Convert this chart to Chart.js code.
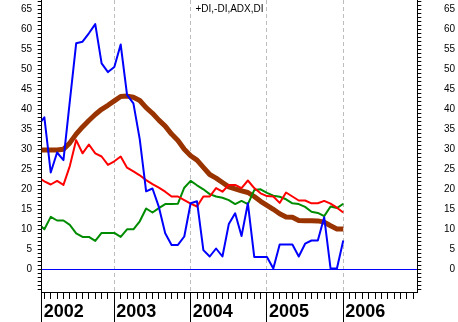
<!DOCTYPE html>
<html>
<head>
<meta charset="utf-8">
<script src="https://cdn.jsdelivr.net/npm/chart.js@4/dist/chart.umd.min.js"></script>
<style>
  html, body { margin: 0; padding: 0; background: #fff; }
  canvas { display: block; }
</style>
</head>
<body>
<canvas id="dmi" width="458" height="322"></canvas>
<script>
// monthly readings, Jan 2002 .. Jan 2006 (x = months since Jan 2002)
const years = ['2002', '2003', '2004', '2005', '2006'];
const yearStarts = [0, 12, 24, 36, 48];
const yTickLabels = [0, 5, 10, 15, 20, 25, 30, 35, 40, 45, 50, 55, 60, 65];

const di = [36, 38, 24.2, 29.2, 27.3, 42, 56.5, 56.9, 59, 61.3, 51.5, 49.3, 50.6, 56.2, 43.6, 41.5,
  32.5, 19.5, 20.2, 15.6, 9, 6.1, 6.1, 8.2, 16.5, 17, 4.8, 3.2, 5.2, 3.2, 11.3, 14, 8.3, 16.5,
  3.1, 3.1, 3.1, 0.2, 6.2, 6.2, 6.2, 3.2, 6.4, 7.2, 7.2, 13, 0.2, 0.2, 7.2];
const minusDI = [23, 22, 21.2, 22.1, 21.1, 25.8, 32.3, 29, 31.2, 29, 28.2, 26.1, 27, 28.2, 25.4, 24.5,
  23.5, 22.3, 21.3, 20.4, 19.4, 18.2, 18.2, 17.3, 16.4, 15.7, 18.2, 18.2, 20.3, 19.4, 21.1, 21.1,
  20.3, 22.2, 20.3, 19, 18.3, 18.2, 16.6, 19.2, 18.2, 17.2, 17.2, 16.5, 16.5, 17.1, 16.4, 15.4, 14.2];
const plusDI = [11.5, 10, 13.1, 12.2, 12.2, 11.1, 9, 8.1, 8.1, 7.1, 9.1, 9.1, 9.1, 8.1, 10, 10,
  12, 15.2, 14.2, 15.3, 16.3, 16.3, 16.4, 20.4, 22.1, 21, 20, 18.8, 18.2, 17.9, 17.3, 16.3,
  17.1, 16.3, 19.8, 20, 19.1, 18.4, 18.15, 17.5, 16.5, 16.3, 15.6, 14.4, 14.1, 13.3, 15.7, 15.3, 16.4];
const adx = [29.8, 29.8, 29.8, 29.8, 30, 31.6, 33.8, 35.6, 37.2, 38.7, 40, 41, 42.1, 43.2, 43.3, 43,
  42.2, 40.4, 39, 37.3, 35.8, 33.8, 32.2, 30, 28.4, 27.3, 25.5, 23.7, 22.8, 21.7, 20.6, 20.1,
  19.6, 19.2, 18.2, 17, 16, 15, 13.9, 13.1, 13, 12.2, 12.15, 12.15, 12.1, 11.8, 10.9, 10.1, 10.1];

const X_MIN = 0.58, X_MAX = 59.64;
const Y_MIN = -5.675, Y_MAX = 67.325;

const pts = arr => arr.map((v, i) => ({x: i, y: v}));
const line = (data, color, width) => ({
  data: pts(data), borderColor: color, borderWidth: width,
  pointRadius: 0, tension: 0, fill: false, borderJoinStyle: 'round'
});

// one tick per unit (months on x, points on y)
const unitTicks = (lo, hi) => {
  const t = [];
  for (let v = Math.ceil(lo); v <= Math.floor(hi); v++) t.push({value: v});
  return t;
};

const labelFont = c => ({
  family: "'Liberation Sans', Arial, sans-serif", size: 10,
  lineHeight: c.tick && yTickLabels.includes(c.tick.value) ? 1.2 : 0
});
const yLabel = v => yTickLabels.includes(v) ? String(v) : '';
const noPad = s => { s.paddingTop = 0; s.paddingBottom = 0; };

new Chart(document.getElementById('dmi'), {
  type: 'line',
  data: {
    datasets: [
      line(di, '#0000ff', 2),
      line(minusDI, '#ff0000', 2),
      line(plusDI, '#008c00', 2),
      line(adx, '#993300', 5)
    ]
  },
  options: {
    responsive: false,
    animation: false,
    layout: { padding: { left: 0, right: 3, top: 0, bottom: 0 } },
    plugins: {
      legend: { display: false },
      tooltip: { enabled: false },
      title: {
        display: true,
        fullSize: false,
        text: '+DI,-DI,ADX,DI',
        color: '#000',
        font: { family: "'Liberation Sans', Arial, sans-serif", size: 10, weight: 'normal' },
        padding: { top: 3, bottom: -15 }
      }
    },
    scales: {
      x: {
        type: 'linear', position: 'bottom', min: X_MIN, max: X_MAX,
        afterBuildTicks: s => { s.ticks = yearStarts.map(v => ({value: Math.max(v, X_MIN)})); },
        afterFit: s => { s.height = 30; },
        ticks: {
          callback: (v, i) => years[i],
          align: 'start', labelOffset: 2, padding: -18.5, maxRotation: 0, autoSkip: false,
          color: '#000',
          font: { family: "'Liberation Sans', Arial, sans-serif", size: 18, weight: 'bold', lineHeight: 1 }
        },
        grid: {
          color: c => c.index > 0 ? '#bdbdbd' : 'rgba(0,0,0,0)',
          tickColor: '#000', tickLength: 30, lineWidth: 1
        },
        border: { color: '#000', width: 1, dash: [4, 3] }
      },
      xm: {
        type: 'linear', position: { y: Y_MIN }, min: X_MIN, max: X_MAX,
        afterBuildTicks: s => { s.ticks = unitTicks(X_MIN, X_MAX); },
        ticks: { display: false },
        grid: { drawOnChartArea: false, tickColor: '#000', tickLength: 7 },
        border: { display: false }
      },
      y: {
        position: 'left', min: Y_MIN, max: Y_MAX,
        afterBuildTicks: s => { s.ticks = unitTicks(Y_MIN, Y_MAX); },
        afterFit: s => { s.width = 41.7; noPad(s); },
        ticks: {
          autoSkip: false, padding: 5.7,
          callback: yLabel, color: '#000', font: labelFont
        },
        grid: {
          color: c => c.tick && c.tick.value === 0 ? '#0000ff' : 'rgba(0,0,0,0)',
          tickColor: '#000', tickLength: 4
        },
        border: { color: '#000' }
      },
      y2: {
        position: 'right', min: Y_MIN, max: Y_MAX,
        afterBuildTicks: s => { s.ticks = unitTicks(Y_MIN, Y_MAX); },
        afterFit: s => { s.width = 37.7; noPad(s); },
        ticks: {
          autoSkip: false, crossAlign: 'far',
          callback: yLabel, color: '#000', font: labelFont
        },
        grid: { drawOnChartArea: false, tickColor: '#000', tickLength: 4 },
        border: { color: '#000' }
      }
    }
  }
});
</script>
</body>
</html>
